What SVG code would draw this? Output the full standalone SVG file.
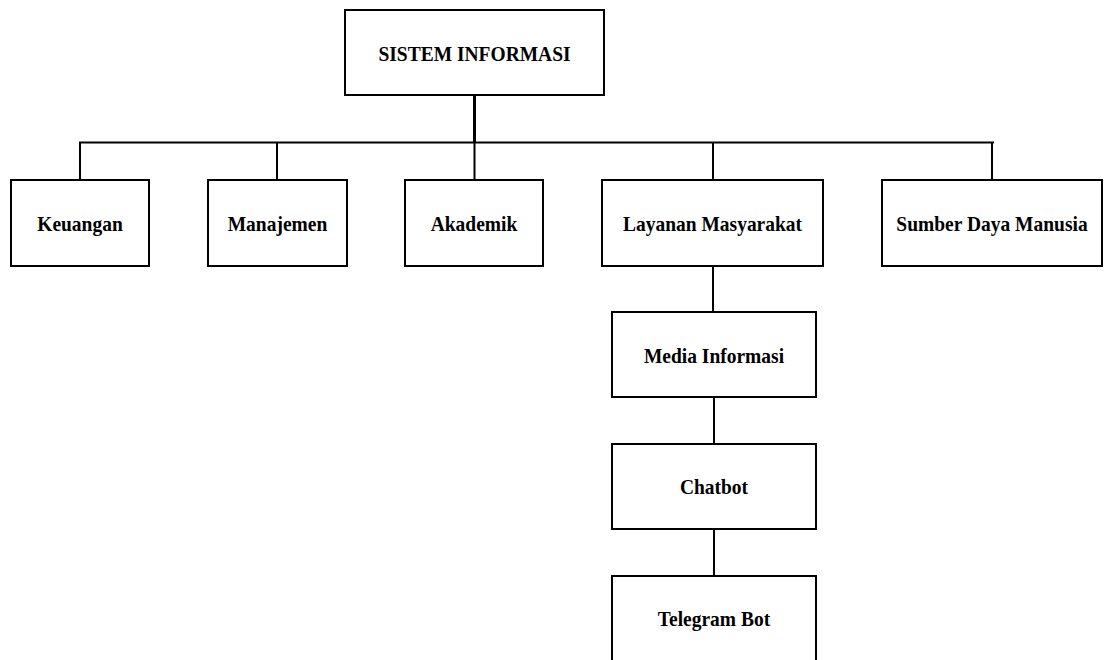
<svg xmlns="http://www.w3.org/2000/svg" width="1108" height="660" viewBox="0 0 1108 660">
<style>
.box{fill:#fff;stroke:#000;stroke-width:2}
.lbl{font-family:"Liberation Serif","Times New Roman",serif;font-weight:bold;font-size:19.5px;fill:#000;text-anchor:middle}
.con{fill:none;stroke:#000;stroke-width:2}
</style>
<rect width="1108" height="660" fill="#fff"/>
<g id="connectors">
<line class="con" x1="474.5" y1="95" x2="474.5" y2="143" style="stroke-width:3"/>
<line class="con" x1="79" y1="142.5" x2="994" y2="142.5"/>
<line class="con" x1="80" y1="142.5" x2="80" y2="180"/>
<line class="con" x1="277" y1="142.5" x2="277" y2="180"/>
<line class="con" x1="474.5" y1="142.5" x2="474.5" y2="180"/>
<line class="con" x1="713" y1="142.5" x2="713" y2="180"/>
<line class="con" x1="992" y1="142.5" x2="992" y2="180"/>
<line class="con" x1="713" y1="266" x2="713" y2="312"/>
<line class="con" x1="714" y1="397" x2="714" y2="444"/>
<line class="con" x1="714" y1="529" x2="714" y2="576"/>
</g>
<g id="n-sistem"><rect class="box" x="345" y="10" width="259" height="85"/><text class="lbl" transform="translate(474.5 61) scale(1 1.1)">SISTEM INFORMASI</text></g>
<g id="n-keuangan"><rect class="box" x="11" y="180" width="138" height="86"/><text class="lbl" transform="translate(80 230.5) scale(1 1.1)">Keuangan</text></g>
<g id="n-manajemen"><rect class="box" x="208" y="180" width="139" height="86"/><text class="lbl" transform="translate(277.5 230.5) scale(1 1.1)">Manajemen</text></g>
<g id="n-akademik"><rect class="box" x="405" y="180" width="138" height="86"/><text class="lbl" transform="translate(474 230.5) scale(1 1.1)">Akademik</text></g>
<g id="n-layanan"><rect class="box" x="602" y="180" width="221" height="86"/><text class="lbl" transform="translate(712.5 230.5) scale(1 1.1)">Layanan Masyarakat</text></g>
<g id="n-sdm"><rect class="box" x="882" y="180" width="220" height="86"/><text class="lbl" transform="translate(992 230.5) scale(1 1.1)">Sumber Daya Manusia</text></g>
<g id="n-media"><rect class="box" x="612" y="312" width="204" height="85"/><text class="lbl" transform="translate(714 362.5) scale(1 1.1)">Media Informasi</text></g>
<g id="n-chatbot"><rect class="box" x="612" y="444" width="204" height="85"/><text class="lbl" transform="translate(714 493.5) scale(1 1.1)">Chatbot</text></g>
<g id="n-telegram"><rect class="box" x="612" y="576" width="204" height="90"/><text class="lbl" transform="translate(714 625.5) scale(1 1.1)">Telegram Bot</text></g>
</svg>
